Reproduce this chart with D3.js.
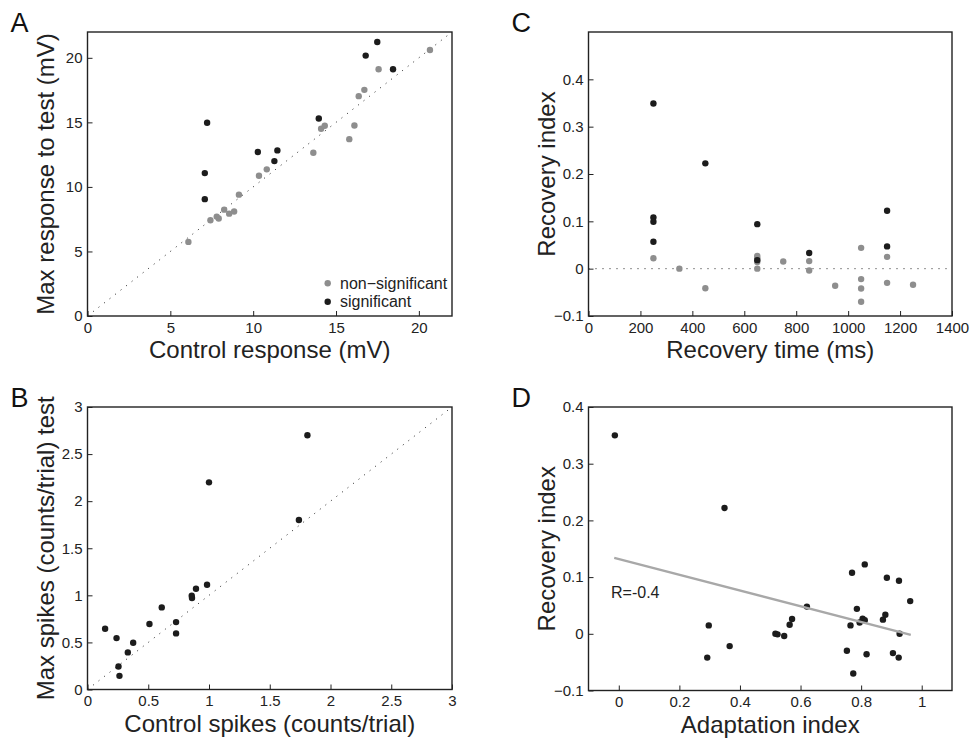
<!DOCTYPE html>
<html>
<head>
<meta charset="utf-8">
<script src="https://cdn.jsdelivr.net/npm/d3@7"></script>
<style>
    body { margin: 0; background: #fff; }
    svg { display: block; font-family: "Liberation Sans", Arial, Helvetica, sans-serif; }
</style>
</head>
<body>
<div id="chart"></div>
<script>
// Panel A: control response vs max response to test (mV)
const aNsCtrl = [6.09, 7.42, 7.80, 7.92, 8.25, 8.55, 8.85, 9.14, 10.35, 10.82, 13.63, 14.10, 14.32, 15.80, 16.11, 16.37, 16.71, 17.57, 20.67];
const aNsTest = [5.74, 7.42, 7.70, 7.55, 8.24, 7.93, 8.09, 9.40, 10.87, 11.36, 12.65, 14.50, 14.74, 13.70, 14.76, 17.03, 17.52, 19.11, 20.60];
const aSigCtrl = [7.08, 7.08, 7.22, 10.28, 11.28, 11.46, 13.96, 16.79, 17.49, 18.44];
const aSigTest = [9.05, 11.07, 14.97, 12.70, 12.00, 12.83, 15.30, 20.17, 21.23, 19.11];

// Panel C: recovery time (ms) vs recovery index
const cNsTime = [250, 350, 450, 650, 650, 650, 650, 750, 850, 850, 950, 1050, 1050, 1050, 1050, 1150, 1150, 1250];
const cNsIndex = [0.022, 0, -0.0415, 0.027, 0.022, 0.014, 0, 0.015, 0.016, -0.004, -0.036, 0.044, -0.022, -0.042, -0.070, 0.025, -0.030, -0.034];
const cSigTime = [250, 250, 250, 250, 450, 650, 650, 850, 1150, 1150];
const cSigIndex = [0.349, 0.108, 0.099, 0.057, 0.2225, 0.094, 0.018, 0.033, 0.1225, 0.047];

// Panel B: control spikes vs max spikes (counts/trial)
const bCtrl = [0.145, 0.239, 0.255, 0.263, 0.332, 0.376, 0.51, 0.611, 0.729, 0.729, 0.858, 0.86, 0.893, 0.984, 1.0, 1.74, 1.81];
const bTest = [0.645, 0.546, 0.245, 0.145, 0.394, 0.496, 0.695, 0.872, 0.716, 0.596, 0.996, 0.971, 1.07, 1.113, 2.2, 1.8, 2.7];

// Panel D: adaptation index vs recovery index
const dAdapt = [-0.013, 0.349, 0.292, 0.297, 0.366, 0.517, 0.524, 0.546, 0.564, 0.572, 0.621, 0.753, 0.765, 0.770, 0.774, 0.786, 0.795, 0.805, 0.812, 0.812, 0.818, 0.872, 0.880, 0.885, 0.905, 0.925, 0.924, 0.927, 0.962];
const dRecov = [0.35, 0.222, -0.042, 0.0148, -0.0217, 0, -0.001, -0.004, 0.016, 0.026, 0.048, -0.030, 0.0148, 0.1076, -0.07, 0.044, 0.020, 0.0265, 0.024, 0.1224, -0.036, 0.025, 0.0335, 0.0988, -0.034, 0.0935, -0.042, 0, 0.0577];
const dFitX = [-0.015, 0.964];
const dFitY = [0.134, -0.002];

// Tick values
const ticksA = [0, 5, 10, 15, 20];
const ticksCx = [0, 200, 400, 600, 800, 1000, 1200, 1400];
const ticksCy = [-0.1, 0, 0.1, 0.2, 0.3, 0.4];
const ticksB = [0, 0.5, 1, 1.5, 2, 2.5, 3];
const ticksDx = [0, 0.2, 0.4, 0.6, 0.8, 1];
const ticksDy = [-0.1, 0, 0.1, 0.2, 0.3, 0.4];

const grey = '#8e8e8e';
const dark = '#1c1c1c';
const fmt = d3.format('~g');

const svg = d3.select('#chart')
    .append('svg')
    .attr('width', 971)
    .attr('height', 739);

function drawPanel(cfg) {
    const x = d3.scaleLinear().domain(cfg.xDomain).range([cfg.left, cfg.right]);
    const y = d3.scaleLinear().domain(cfg.yDomain).range([cfg.bottom, cfg.top]);
    const g = svg.append('g');

    // x axis, ticks pointing inward
    const xAxis = g.append('g')
        .attr('transform', `translate(0,${cfg.bottom})`)
        .call(d3.axisBottom(x).tickValues(cfg.xTicks).tickFormat(fmt).tickSize(-5).tickPadding(6));
    const yAxis = g.append('g')
        .attr('transform', `translate(${cfg.left},0)`)
        .call(d3.axisLeft(y).tickValues(cfg.yTicks).tickFormat(fmt).tickSize(-5).tickPadding(5));

    [xAxis, yAxis].forEach(a => {
        a.select('.domain').remove();
        a.selectAll('text').attr('font-size', 15).attr('fill', '#222').attr('font-family', null);
        a.selectAll('line').attr('stroke', '#222');
    });

    // box
    g.append('rect')
        .attr('x', cfg.left)
        .attr('y', cfg.top)
        .attr('width', cfg.right - cfg.left)
        .attr('height', cfg.bottom - cfg.top)
        .attr('fill', 'none')
        .attr('stroke', '#222')
        .attr('stroke-width', 1.4);

    // labels
    g.append('text')
        .attr('x', (cfg.left + cfg.right) / 2)
        .attr('y', cfg.bottom + 42)
        .attr('text-anchor', 'middle')
        .attr('font-size', 24)
        .attr('fill', '#222')
        .text(cfg.xLabel);

    g.append('text')
        .attr('transform', `translate(${cfg.left - 34},${(cfg.top + cfg.bottom) / 2}) rotate(-90)`)
        .attr('text-anchor', 'middle')
        .attr('font-size', 24)
        .attr('fill', '#222')
        .text(cfg.yLabel);

    g.append('text')
        .attr('x', cfg.left - 77)
        .attr('y', cfg.top)
        .attr('font-size', 27)
        .attr('fill', '#111')
        .text(cfg.letter);

    return { g, x, y };
}

function dots(p, xs, ys, color) {
    p.g.append('g')
        .selectAll('circle')
        .data(d3.zip(xs, ys))
        .join('circle')
        .attr('cx', d => p.x(d[0]))
        .attr('cy', d => p.y(d[1]))
        .attr('r', 3.2)
        .attr('fill', color);
}

function dotted(p, x1, y1, x2, y2) {
    p.g.append('line')
        .attr('x1', p.x(x1))
        .attr('y1', p.y(y1))
        .attr('x2', p.x(x2))
        .attr('y2', p.y(y2))
        .attr('stroke', '#222')
        .attr('stroke-width', 1)
        .attr('stroke-dasharray', '1 6');
}

// A
const pA = drawPanel({
    left: 87.5, right: 452, top: 32, bottom: 316,
    xDomain: [0, 22], yDomain: [0, 22], xTicks: ticksA, yTicks: ticksA,
    xLabel: 'Control response (mV)', yLabel: 'Max response to test (mV)', letter: 'A'
});
dotted(pA, 0, 0, 22, 22);
dots(pA, aNsCtrl, aNsTest, grey);
dots(pA, aSigCtrl, aSigTest, dark);

// legend
const legend = pA.g.append('g');
[['non\u2212significant', grey], ['significant', dark]].forEach((item, i) => {
    legend.append('circle')
        .attr('cx', 327.7)
        .attr('cy', 283.3 + i * 18.4)
        .attr('r', 3.2)
        .attr('fill', item[1]);
    legend.append('text')
        .attr('x', 340)
        .attr('y', 283.3 + i * 18.4)
        .attr('dy', '0.35em')
        .attr('font-size', 16)
        .attr('fill', '#222')
        .text(item[0]);
});

// C
const pC = drawPanel({
    left: 588.5, right: 952, top: 32, bottom: 316,
    xDomain: [0, 1400], yDomain: [-0.1, 0.5], xTicks: ticksCx, yTicks: ticksCy,
    xLabel: 'Recovery time (ms)', yLabel: 'Recovery index', letter: 'C'
});
dotted(pC, 0, 0, 1400, 0);
dots(pC, cNsTime, cNsIndex, grey);
dots(pC, cSigTime, cSigIndex, dark);

// B
const pB = drawPanel({
    left: 87.5, right: 452, top: 407, bottom: 689.5,
    xDomain: [0, 3], yDomain: [0, 3], xTicks: ticksB, yTicks: ticksB,
    xLabel: 'Control spikes (counts/trial)', yLabel: 'Max spikes (counts/trial) test', letter: 'B'
});
dotted(pB, 0, 0, 3, 3);
dots(pB, bCtrl, bTest, dark);

// D
const pD = drawPanel({
    left: 588.5, right: 952, top: 407, bottom: 690.5,
    xDomain: [-0.1, 1.1], yDomain: [-0.1, 0.4], xTicks: ticksDx, yTicks: ticksDy,
    xLabel: 'Adaptation index', yLabel: 'Recovery index', letter: 'D'
});
dots(pD, dAdapt, dRecov, dark);
pD.g.append('line')
    .attr('x1', pD.x(dFitX[0]))
    .attr('y1', pD.y(dFitY[0]))
    .attr('x2', pD.x(dFitX[1]))
    .attr('y2', pD.y(dFitY[1]))
    .attr('stroke', '#a8a8a8')
    .attr('stroke-width', 2.2);
pD.g.append('text')
    .attr('x', 611)
    .attr('y', 598)
    .attr('font-size', 16)
    .attr('fill', '#222')
    .text('R=-0.4');
</script>
</body>
</html>
